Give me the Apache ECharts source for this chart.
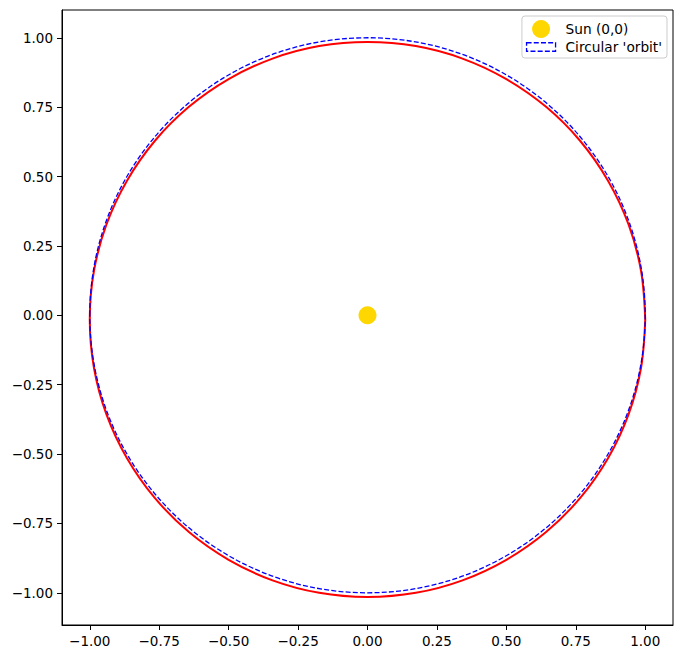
<!DOCTYPE html>
<html>
<head>
<meta charset="utf-8">
<script src="https://cdn.jsdelivr.net/npm/echarts@6/dist/echarts.min.js"></script>
<style>
html,body{margin:0;padding:0;background:#fff;}
#chart{width:684px;height:659px;}
</style>
</head>
<body>
<div id="chart"></div>
<script>
// ---- data ----
const orbitX = [1.000, 0.985, 0.940, 0.866, 0.766, 0.643, 0.500, 0.342, 0.174, 0.000,
  -0.174, -0.342, -0.500, -0.643, -0.766, -0.866, -0.940, -0.985, -1.000,
  -0.985, -0.940, -0.866, -0.766, -0.643, -0.500, -0.342, -0.174, 0.000,
  0.174, 0.342, 0.500, 0.643, 0.766, 0.866, 0.940, 0.985, 1.000];
const orbitY = [-0.015, 0.159, 0.327, 0.485, 0.628, 0.751, 0.851, 0.925, 0.970, 0.985,
  0.970, 0.925, 0.851, 0.751, 0.628, 0.485, 0.327, 0.159, -0.015,
  -0.189, -0.357, -0.515, -0.658, -0.781, -0.881, -0.955, -1.000, -1.015,
  -1.000, -0.955, -0.881, -0.781, -0.658, -0.515, -0.357, -0.189, -0.015];
const sunPosition = [0, 0];
const circleCenter = [0, 0];
const circleRadius = 1;
const xTicks = [-1.00, -0.75, -0.50, -0.25, 0.00, 0.25, 0.50, 0.75, 1.00];
const yTicks = [-1.00, -0.75, -0.50, -0.25, 0.00, 0.25, 0.50, 0.75, 1.00];
const sunName = 'Sun (0,0)';
const circleName = "Circular 'orbit'";

const orbitData = orbitX.map((x, i) => [x, orbitY[i]]);
const fmt = v => { const s = Number(v).toFixed(2); return s.replace('-', '\u2212'); };
const FONT = 'DejaVu Sans';

const chart = echarts.init(document.getElementById('chart'), null, {renderer: 'svg'});
chart.setOption({
  animation: false,
  backgroundColor: '#ffffff',
  grid: {left: 62, right: 11, top: 10, bottom: 34, show: true, borderColor: '#000', borderWidth: 1, containLabel: false},
  xAxis: {
    type: 'value', min: -1.1, max: 1.1,
    splitLine: {show: false},
    axisLine: {show: true, onZero: false, lineStyle: {color: '#000', width: 1}},
    axisTick: {show: true, inside: false, length: 5, customValues: xTicks, lineStyle: {color: '#000', width: 1}},
    axisLabel: {show: true, customValues: xTicks, formatter: fmt, margin: 9, color: '#000', fontFamily: FONT, fontSize: 13.5}
  },
  yAxis: {
    type: 'value', min: -1.116, max: 1.1,
    splitLine: {show: false},
    axisLine: {show: true, onZero: false, lineStyle: {color: '#000', width: 1}},
    axisTick: {show: true, inside: false, length: 5, customValues: yTicks, lineStyle: {color: '#000', width: 1}},
    axisLabel: {show: true, customValues: yTicks, formatter: fmt, margin: 9, color: '#000', fontFamily: FONT, fontSize: 13.5}
  },
  legend: {
    orient: 'vertical', align: 'left',
    right: 17, top: 16,
    padding: [4, 5, 4, 4],
    itemGap: 2, itemWidth: 29, itemHeight: 18,
    backgroundColor: 'rgba(255,255,255,0.8)',
    borderColor: '#cccccc', borderWidth: 1, borderRadius: 3,
    textStyle: {color: '#000', fontFamily: FONT, fontSize: 13.7, padding: [0, 0, 0, 5]},
    data: [
      {name: sunName, icon: 'circle', itemStyle: {color: '#FFD700', opacity: 1, borderWidth: 0}},
      {name: circleName, icon: 'path://M0,0 L29,0 L29,8.5 L0,8.5 Z',
       itemStyle: {color: 'rgba(0,0,0,0)', borderColor: '#0000ff', borderWidth: 1.3, borderType: [5, 2.2]}}
    ]
  },
  series: [
    {
      name: 'orbit', type: 'line', data: orbitData, showSymbol: false, symbol: 'none',
      smooth: 0.35, lineStyle: {color: '#ff0000', width: 2}, z: 2, silent: true
    },
    {
      name: circleName, type: 'custom', z: 3, silent: true,
      data: [[circleCenter[0], circleCenter[1], circleRadius]],
      renderItem: function (params, api) {
        const cx = api.value(0), cy = api.value(1), r = api.value(2);
        const c = api.coord([cx, cy]);
        const px = api.coord([cx + r, cy]);
        const py = api.coord([cx, cy + r]);
        const rx = px[0] - c[0];
        const ry = c[1] - py[1];
        return {
          type: 'ellipse',
          shape: {cx: c[0], cy: c[1], rx: rx, ry: ry},
          style: {fill: 'none', stroke: '#0000ff', lineWidth: 1.3, lineDash: [5, 2.2]}
        };
      },
      itemStyle: {color: 'rgba(0,0,0,0)', borderColor: '#0000ff'}
    },
    {
      name: sunName, type: 'scatter', data: [sunPosition], symbol: 'circle', symbolSize: 18,
      itemStyle: {color: '#FFD700', opacity: 1}, z: 4, silent: true
    }
  ]
});
</script>
</body>
</html>
